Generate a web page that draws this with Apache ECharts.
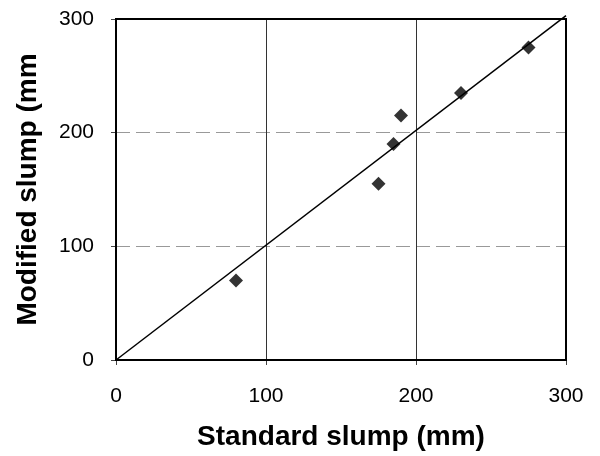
<!DOCTYPE html>
<html>
<head>
<meta charset="utf-8">
<script src="https://cdn.jsdelivr.net/npm/echarts@6/dist/echarts.min.js"></script>
<style>
  html, body { margin: 0; padding: 0; background: #fff; }
  #chart { width: 600px; height: 456px; }
</style>
</head>
<body>
<div id="chart"></div>
<script>
// measured points: standard slump vs modified slump (mm)
var standardSlump = [80, 175, 185, 190, 230, 275];
var modifiedSlump = [70, 155, 190, 215, 235, 275];
// fitted line endpoints
var fitX = [0, 300];
var fitY = [0, 303];
var ticks = [0, 100, 200, 300];

var font = 'Liberation Sans, Arial, sans-serif';

var points = standardSlump.map(function (x, i) { return [x, modifiedSlump[i]]; });
var fit = fitX.map(function (x, i) { return [x, fitY[i]]; });

var chart = echarts.init(document.getElementById('chart'));
chart.setOption({
  animation: false,
  backgroundColor: '#fff',
  grid: {
    left: 116,
    right: 34,
    top: 19,
    bottom: 94,
    show: true,
    borderColor: '#000',
    borderWidth: 2,
    z: 3
  },
  xAxis: {
    type: 'value',
    min: ticks[0],
    max: ticks[ticks.length - 1],
    interval: 100,
    name: 'Standard slump (mm)',
    nameLocation: 'middle',
    nameGap: 63,
    nameTextStyle: { fontFamily: font, fontWeight: 'bold', fontSize: 28, color: '#000' },
    axisLine: { show: true, lineStyle: { color: '#000', width: 2 } },
    axisTick: { show: true, length: 5, lineStyle: { color: '#444' } },
    axisLabel: { fontFamily: font, fontSize: 21, color: '#000', margin: 26 },
    splitLine: { show: true, showMinLine: false, showMaxLine: false, lineStyle: { color: '#333', width: 1 } }
  },
  yAxis: {
    type: 'value',
    min: ticks[0],
    max: ticks[ticks.length - 1],
    interval: 100,
    name: 'Modified slump (mm',
    nameLocation: 'middle',
    nameGap: 74,
    nameTextStyle: { fontFamily: font, fontWeight: 'bold', fontSize: 28, color: '#000' },
    axisLine: { show: true, lineStyle: { color: '#000', width: 2 } },
    axisTick: { show: true, length: 5, lineStyle: { color: '#444' } },
    axisLabel: { fontFamily: font, fontSize: 21, color: '#000', margin: 22 },
    splitLine: { show: true, showMinLine: false, showMaxLine: false, lineStyle: { color: '#999', width: 1, type: [14, 6] } }
  },
  series: [
    {
      type: 'line',
      data: fit,
      showSymbol: false,
      clip: false,
      lineStyle: { color: '#000', width: 1.5 },
      z: 2
    },
    {
      type: 'scatter',
      data: points,
      symbol: 'diamond',
      symbolSize: [14, 14],
      itemStyle: { color: '#000' },
      z: 4
    }
  ]
});
</script>
</body>
</html>
